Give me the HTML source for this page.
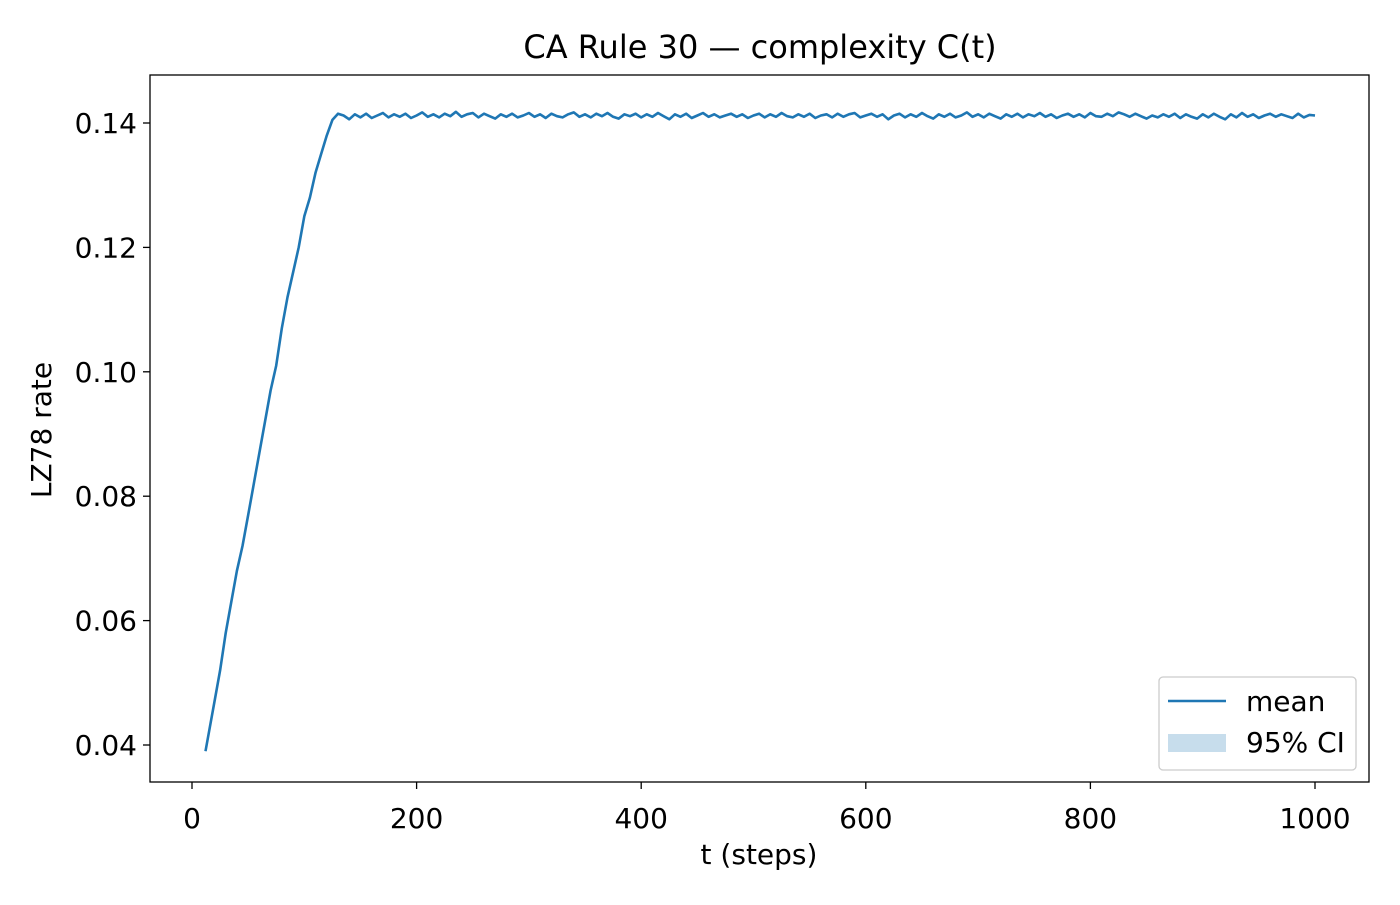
<!DOCTYPE html>
<html><head><meta charset="utf-8"><style>
body{margin:0;background:#fff;}
text{font-family:"DejaVu Sans","Liberation Sans",sans-serif;fill:#000;}
</style></head><body>
<svg id="chart" width="1400" height="900">
<rect width="1400" height="900" fill="#fff"/>
<text x="760" y="58" font-size="32" text-anchor="middle">CA Rule 30 — complexity C(t)</text>
<g id="xt"></g><g id="yt"></g>
<path id="ci" fill="#1f77b4" fill-opacity="0.25"/>
<path id="line" fill="none" stroke="#1f77b4" stroke-width="2.6" stroke-linejoin="round"/>
<rect x="150" y="75" width="1219" height="707" fill="none" stroke="#000" stroke-width="1.3"/>
<text x="759" y="864" font-size="28" text-anchor="middle">t (steps)</text>
<text transform="translate(51,430) rotate(-90)" font-size="28" text-anchor="middle">LZ78 rate</text>
<g>
<rect x="1159" y="677" width="197" height="93" rx="4" fill="#fff" stroke="#ccc" stroke-width="1.3"/>
<line x1="1168" y1="701" x2="1226" y2="701" stroke="#1f77b4" stroke-width="2.6"/>
<text x="1246" y="711" font-size="28">mean</text>
<rect x="1168" y="734" width="58" height="18" fill="#1f77b4" fill-opacity="0.25"/>
<text x="1246" y="752" font-size="28">95% CI</text>
</g>
</svg>
<script>
const xTicks=[0,200,400,600,800,1000];
const yTicks=[0.04,0.06,0.08,0.10,0.12,0.14];
const yTickLabels=["0.04","0.06","0.08","0.10","0.12","0.14"];
const riseT=[12,16,20,25,30,35,40,45,50,55,60,65,70,75,80,85,90,95,100,105,110,115,120,125,130];
const riseV=[0.039,0.043,0.047,0.052,0.058,0.063,0.068,0.072,0.077,0.082,0.087,0.092,0.097,0.101,0.107,0.112,0.116,0.120,0.125,0.128,0.132,0.135,0.138,0.1405,0.1415];
const plateauV=[0.1412,0.1406,0.1414,0.1409,0.1415,0.1408,0.1412,0.1416,0.1409,0.1414,0.1410,0.1415,0.1408,0.1412,0.1417,0.1410,0.1414,0.1409,0.1415,0.1411,0.1418,0.1410,0.1414,0.1416,0.1409,0.1415,0.1411,0.1407,0.1414,0.1410,0.1415,0.1409,0.1412,0.1416,0.1410,0.1414,0.1408,0.1415,0.1411,0.1409,0.1414,0.1417,0.1410,0.1414,0.1409,0.1415,0.1411,0.1416,0.1410,0.1407,0.1414,0.1411,0.1415,0.1409,0.1414,0.1410,0.1416,0.1411,0.1406,0.1414,0.1410,0.1415,0.1408,0.1412,0.1416,0.1410,0.1414,0.1409,0.1412,0.1415,0.1410,0.1414,0.1408,0.1412,0.1415,0.1409,0.1414,0.1410,0.1416,0.1411,0.1409,0.1414,0.1410,0.1415,0.1408,0.1412,0.1414,0.1409,0.1415,0.1410,0.1414,0.1416,0.1409,0.1412,0.1415,0.1410,0.1414,0.1406,0.1412,0.1415,0.1409,0.1414,0.1410,0.1416,0.1411,0.1407,0.1414,0.1410,0.1415,0.1409,0.1412,0.1417,0.1410,0.1414,0.1409,0.1415,0.1411,0.1407,0.1414,0.1410,0.1415,0.1409,0.1414,0.1411,0.1416,0.1410,0.1414,0.1408,0.1412,0.1415,0.1410,0.1414,0.1409,0.1416,0.1411,0.1410,0.1415,0.1411,0.1417,0.1414,0.1410,0.1415,0.1411,0.1407,0.1412,0.1409,0.1414,0.1410,0.1415,0.1408,0.1414,0.1410,0.1407,0.1414,0.1409,0.1415,0.1410,0.1406,0.1414,0.1409,0.1416,0.1410,0.1414,0.1408,0.1412,0.1415,0.1410,0.1414,0.1411,0.1408,0.1415,0.1409,0.1413,0.1412];
const plateauStart=135, plateauStep=5;
const ciHalf=0.0002;
const X=t=>192+(t-0)*(1315-192)/1000;
const Y=v=>745-(v-0.04)*(745-123)/0.10;
const NS="http://www.w3.org/2000/svg";
const xt=document.getElementById('xt'), yt=document.getElementById('yt');
xTicks.forEach(t=>{
 const l=document.createElementNS(NS,'line');
 l.setAttribute('x1',X(t));l.setAttribute('x2',X(t));l.setAttribute('y1',782);l.setAttribute('y2',789);l.setAttribute('stroke','#000');l.setAttribute('stroke-width','1.3');
 
 
 xt.appendChild(l);
 const s=document.createElementNS(NS,'text');
 s.setAttribute('x',X(t));s.setAttribute('y',828);s.setAttribute('font-size','28');s.setAttribute('text-anchor','middle');s.textContent=t;
 
 
 xt.appendChild(s);
});
yTicks.forEach((v,i)=>{
 const l=document.createElementNS(NS,'line');
 l.setAttribute('x1',143);l.setAttribute('x2',150);l.setAttribute('y1',Y(v));l.setAttribute('y2',Y(v));l.setAttribute('stroke','#000');l.setAttribute('stroke-width','1.3');
 
 
 yt.appendChild(l);
 const s=document.createElementNS(NS,'text');
 s.setAttribute('x',137);s.setAttribute('y',Y(v)+10);s.setAttribute('font-size','28');s.setAttribute('text-anchor','end');s.textContent=yTickLabels[i];
 
 
 yt.appendChild(s);
});
const T=riseT.slice(), V=riseV.slice();
plateauV.forEach((v,i)=>{T.push(plateauStart+i*plateauStep);V.push(v);});
let d='';T.forEach((t,i)=>{d+=(i?'L':'M')+X(t).toFixed(1)+','+Y(V[i]).toFixed(1);});
document.getElementById('line').setAttribute('d',d);
let up='',dn='';
T.forEach((t,i)=>{up+=(i?'L':'M')+X(t).toFixed(1)+','+Y(V[i]+ciHalf).toFixed(1);});
for(let i=T.length-1;i>=0;i--){dn+='L'+X(T[i]).toFixed(1)+','+Y(V[i]-ciHalf).toFixed(1);}
document.getElementById('ci').setAttribute('d',up+dn+'Z');
</script>
</body></html>
